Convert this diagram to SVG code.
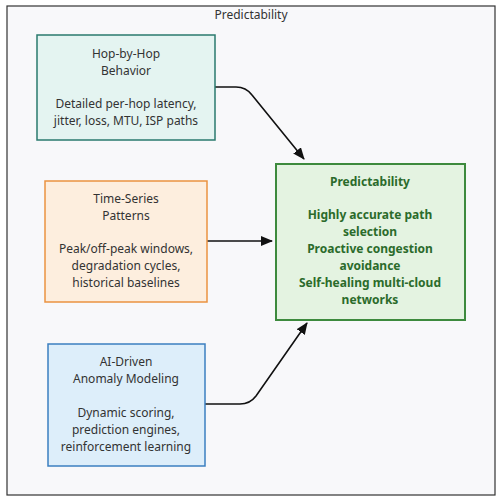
<svg xmlns="http://www.w3.org/2000/svg" width="502" height="502" viewBox="0 0 502 502">
<style>
text{font-family:"Noto Sans","Open Sans","DejaVu Sans",sans-serif;font-size:12px;text-anchor:middle;fill:#333}
.conn{fill:none;stroke:#111;stroke-width:1.6}
.out text{fill:#2b6b2b;font-weight:bold}
</style>
<defs>
<marker id="ah" viewBox="0 0 10 10" refX="9" refY="5" markerWidth="8" markerHeight="8" markerUnits="userSpaceOnUse" orient="auto">
<path d="M0,0 L10,5 L0,10 z" fill="#111"/>
</marker>
<marker id="arr" viewBox="0 0 12 10" refX="11" refY="5" markerWidth="12" markerHeight="10" markerUnits="userSpaceOnUse" orient="auto">
<path d="M0,0 L12,5 L0,10 z" fill="#111"/>
</marker>
</defs>
<rect x="0" y="0" width="502" height="502" fill="#ffffff"/>
<rect x="7" y="6" width="488" height="489" fill="#f8f8fa" stroke="#333" stroke-width="1.2"/>
<text x="251" y="19">Predictability</text>
<g id="connectors">
<path class="conn" d="M215,87 L236,87 Q246,87 252,95 L304,159" marker-end="url(#arr)"/>
<path class="conn" d="M207,241 L272,241" marker-end="url(#arr)"/>
<path class="conn" d="M205,404 L240,404 Q250,404 256,396 L307,323" marker-end="url(#arr)"/>
</g>
<g id="hop">
<rect x="37" y="35" width="178" height="105" fill="#e4f4f1" stroke="#2a7a6e" stroke-width="1.5"/>
<text x="126" y="58">Hop-by-Hop</text>
<text x="126" y="75">Behavior</text>
<text x="126" y="108">Detailed per-hop latency,</text>
<text x="126" y="125">jitter, loss, MTU, ISP paths</text>
</g>
<g id="timeseries">
<rect x="45" y="181" width="162" height="121" fill="#fdeede" stroke="#ea9240" stroke-width="1.5"/>
<text x="126" y="203">Time-Series</text>
<text x="126" y="220">Patterns</text>
<text x="126" y="253">Peak/off-peak windows,</text>
<text x="126" y="270">degradation cycles,</text>
<text x="126" y="287">historical baselines</text>
</g>
<g id="ai">
<rect x="48" y="344" width="157" height="122" fill="#ddeefa" stroke="#3b7fc0" stroke-width="1.5"/>
<text x="126" y="366">AI-Driven</text>
<text x="126" y="383">Anomaly Modeling</text>
<text x="126" y="417">Dynamic scoring,</text>
<text x="126" y="434">prediction engines,</text>
<text x="126" y="451">reinforcement learning</text>
</g>
<g id="predictability" class="out">
<rect x="276" y="164" width="189" height="156" fill="#e4f3e1" stroke="#3d8a3d" stroke-width="2"/>
<text x="370" y="186">Predictability</text>
<text x="370" y="219">Highly accurate path</text>
<text x="370" y="236">selection</text>
<text x="370" y="253">Proactive congestion</text>
<text x="370" y="270">avoidance</text>
<text x="370" y="287">Self-healing multi-cloud</text>
<text x="370" y="304">networks</text>
</g>
</svg>
